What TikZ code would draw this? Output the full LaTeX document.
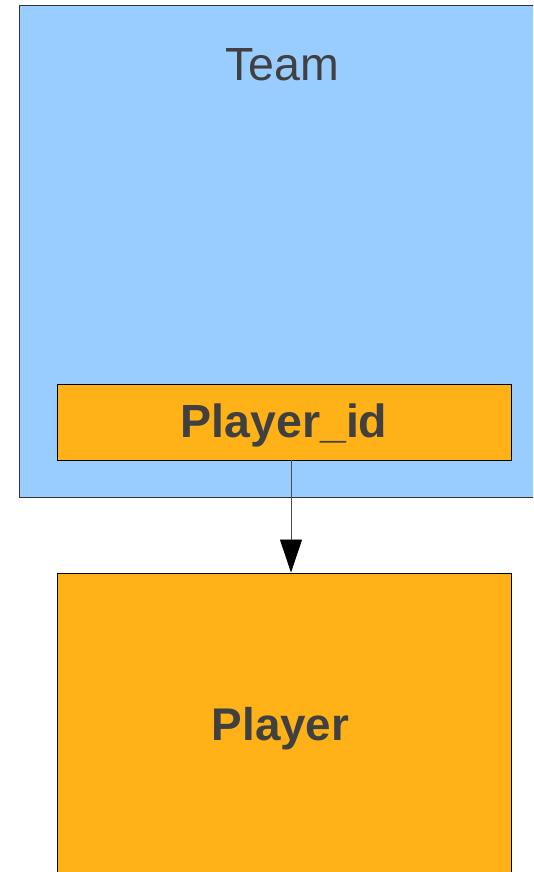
\documentclass[tikz,border=0pt]{standalone}
\usepackage{fontspec}
\setmainfont{Liberation Sans}
\usetikzlibrary{arrows.meta}
\definecolor{teamblue}{HTML}{99CCFF}
\definecolor{boxorange}{HTML}{FEB218}
\definecolor{txtgray}{HTML}{404040}
\definecolor{edgegray}{HTML}{333333}
\tikzset{
  box/.style={draw=black, line width=0.9pt, inner sep=0pt, anchor=north west},
  lbl/.style={text=txtgray, inner sep=0pt, anchor=base},
}
\begin{document}
\begin{tikzpicture}[x=1pt,y=-1pt]
\useasboundingbox (0,0) rectangle (533,872);
\clip (0,0) rectangle (533,872);
\node[box, draw=edgegray, fill=teamblue, minimum width=530pt, minimum height=491.5pt] (team) at (18.5,5.5) {};
\node[lbl, font=\fontsize{46.5}{50}\selectfont] (teamlbl) at (282,81) {Team};
\node[box, fill=boxorange, minimum width=454pt, minimum height=76pt] (pid) at (56.5,383.5) {};
\node[lbl, font=\fontsize{46.5}{50}\selectfont\bfseries] (pidlbl) at (284,437) {Player\_id};
\node[box, fill=boxorange, minimum width=454pt, minimum height=320pt] (player) at (56.5,572.5) {};
\node[lbl, font=\fontsize{45.8}{50}\selectfont\bfseries] (playerlbl) at (280.5,740) {Player};
\coordinate (a1) at (291,459.5);
\coordinate (a2) at (291,572.5);
\draw[line width=0.9pt, draw=black!70, -{Triangle[width=22pt,length=33pt,fill=black,color=black]}] (a1) -- (a2);
\end{tikzpicture}
\end{document}
